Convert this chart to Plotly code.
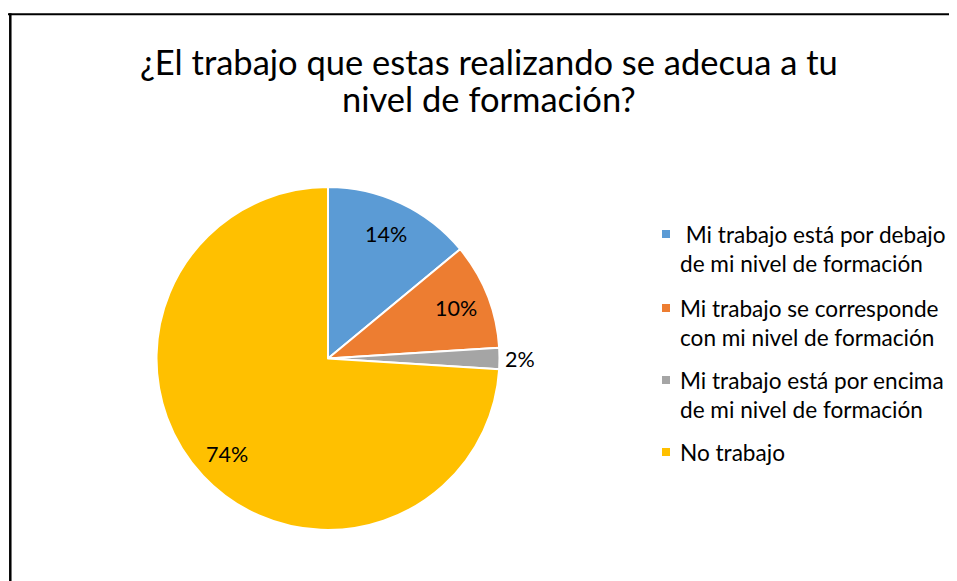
import math
import plotly.graph_objects as go

# ---- data ----
categories = [
    "\u00a0Mi trabajo está por debajo<br>de mi nivel de formación",
    "Mi trabajo se corresponde<br>con mi nivel de formación",
    "Mi trabajo está por encima<br>de mi nivel de formación",
    "No trabajo",
]
values = [14, 10, 2, 74]
colors = ["#5B9BD5", "#ED7D31", "#A5A5A5", "#FFC000"]
title_lines = ["¿El trabajo que estas realizando se adecua a tu", "nivel de formación?"]

# ---- layout constants (figure pixels; page has an 8px body margin) ----
W, H = 949, 573
FONT = "Lato, 'Open Sans', sans-serif"
CX, CY, R = 320.0, 350.5, 171.5            # pie centre / radius
LABEL_R = [0.80, 0.80, 1.12, 0.81]          # label distance (fraction of radius)
LEG_MARK_X, LEG_TEXT_X = 658, 670
LEG_LINE1_Y = [226, 300, 372, 444]
LEG_FS, LINE_H = 22.6, 22.6 * 1.3


def px(x):
    return x / W


def py(y):
    return 1 - y / H


fig = go.Figure(
    go.Pie(
        labels=categories,
        values=values,
        sort=False,
        direction="clockwise",
        rotation=0,
        marker=dict(colors=colors, line=dict(color="white", width=2)),
        textinfo="none",
        domain=dict(x=[px(CX - R), px(CX + R)], y=[py(CY + R), py(CY - R)]),
        hoverinfo="label+percent",
        showlegend=False,
    )
)

annotations = []

# title (two separately placed lines for tighter line spacing)
for i, line in enumerate(title_lines):
    annotations.append(dict(
        text=line, xref="paper", yref="paper", x=px(481), y=py(53 + 37 * i),
        xanchor="center", yanchor="middle", showarrow=False,
        font=dict(family=FONT, size=34.5, color="black"),
    ))

# percentage labels, placed at each slice's mid angle
total = sum(values)
cum = 0.0
for v, rf in zip(values, LABEL_R):
    mid = (cum + v / 2) / total * 2 * math.pi
    cum += v
    lx = CX + rf * R * math.sin(mid)
    ly = CY - rf * R * math.cos(mid)
    annotations.append(dict(
        text=f"{round(100 * v / total)}%", xref="paper", yref="paper",
        x=px(lx), y=py(ly), xanchor="center", yanchor="middle", showarrow=False,
        font=dict(family=FONT, size=21.5, color="black"),
    ))

# legend
shapes = [
    dict(type="line", xref="paper", yref="paper",
         x0=0, x1=1, y0=py(6.3), y1=py(6.3),
         line=dict(color="black", width=2)),
    dict(type="line", xref="paper", yref="paper",
         x0=px(2.3), x1=px(2.3), y0=py(5.3), y1=0,
         line=dict(color="black", width=2.5)),
]
for cat, col, y1 in zip(categories, colors, LEG_LINE1_Y):
    n = cat.count("<br>") + 1
    annotations.append(dict(
        text=cat, xref="paper", yref="paper", x=px(LEG_TEXT_X),
        y=py(y1 + (n - 1) * LINE_H / 2), xanchor="left", yanchor="middle",
        align="left", showarrow=False,
        font=dict(family=FONT, size=LEG_FS, color="black"),
    ))
    shapes.append(dict(
        type="rect", xref="paper", yref="paper",
        x0=px(LEG_MARK_X - 4), x1=px(LEG_MARK_X + 4),
        y0=py(y1 + 4), y1=py(y1 - 4),
        fillcolor=col, line=dict(width=0),
    ))

fig.update_layout(
    width=W,
    height=H,
    margin=dict(l=0, r=0, t=0, b=0),
    paper_bgcolor="white",
    plot_bgcolor="white",
    showlegend=False,
    annotations=annotations,
    shapes=shapes,
)

fig.write_html("out.html")
